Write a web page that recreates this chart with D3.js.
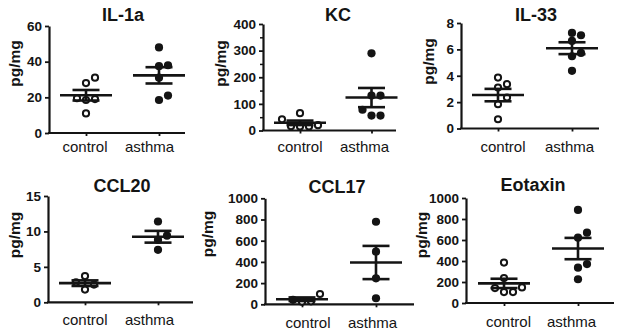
<!DOCTYPE html>
<html>
<head>
<meta charset="utf-8">
<script src="https://cdn.jsdelivr.net/npm/d3@7"></script>
<style>
  html, body { margin: 0; padding: 0; background: #fff; }
  svg { display: block; }
  text { font-family: "Liberation Sans", Arial, sans-serif; fill: #141414; }
</style>
</head>
<body>
<svg id="chart" width="624" height="331"></svg>
<script>
// ---- data ----
const categories = ["control", "asthma"];
const titles = ["IL-1a", "KC", "IL-33", "CCL20", "CCL17", "Eotaxin"];
const yLabel = "pg/mg";

const il1aControl = [31, 28, 19, 18.5, 19.5, 11];
const il1aAsthma  = [48, 38, 37.5, 31, 21, 18.5];
const kcControl   = [42, 65, 15, 15, 16, 20];
const kcAsthma    = [290, 131, 131, 78, 56, 56];
const il33Control = [3.86, 3.36, 3.1, 2.35, 1.84, 0.7];
const il33Asthma  = [7.25, 7.07, 6.64, 5.73, 5.48, 4.37];
const ccl20Control = [3.7, 2.8, 2.5, 1.8];
const ccl20Asthma  = [11.4, 9.4, 8.8, 7.4];
const ccl17Control = [97, 42, 28, 25];
const ccl17Asthma  = [779, 496, 245, 57];
const eotaxinControl = [385, 237, 148, 142, 104, 104];
const eotaxinAsthma  = [886, 670, 622, 371, 336, 226];

const il1aTicks = [0, 20, 40, 60];
const kcTicks = [0, 100, 200, 300, 400];
const kcMinorTicks = [50, 150, 250, 350];
const il33Ticks = [0, 2, 4, 6, 8];
const ccl20Ticks = [0, 5, 10, 15];
const ccl17Ticks = [0, 200, 400, 600, 800, 1000];
const eotaxinTicks = [0, 200, 400, 600, 800, 1000];

// ---- layout (positions only) ----
const layout = [
  {left:49,  right:185, top:26,    bottom:133,   cx:86,  ax:159,   clx:84.5, alx:149, labY:151.5, tx:123, ty:21,  ylx:19.5,  yly:63.5},
  {left:263, right:396, top:24,    bottom:130.5, cx:300, ax:371.5, clx:299.5,alx:364, labY:151.5, tx:338, ty:21,  ylx:225.5, yly:63.5},
  {left:461, right:599, top:23,    bottom:128.5, cx:498, ax:572,   clx:502.5,alx:569, labY:151.5, tx:536, ty:21,  ylx:433.5, yly:61.5},
  {left:48,  right:193, top:196,   bottom:302.3, cx:85,  ax:158,   clx:84.5, alx:149, labY:325,   tx:122, ty:192, ylx:20,    yly:235},
  {left:265, right:414, top:198.3, bottom:304.3, cx:302, ax:376,   clx:307.5,alx:372, labY:328,   tx:337, ty:193, ylx:212.5, yly:234},
  {left:466, right:614, top:198,   bottom:303,   cx:504, ax:578,   clx:508,  alx:571, labY:327,   tx:533, ty:191, ylx:426.5, yly:235}
];

const panels = [
  {title: titles[0], groups: [il1aControl, il1aAsthma], ticks: il1aTicks, minor: null},
  {title: titles[1], groups: [kcControl, kcAsthma], ticks: kcTicks, minor: kcMinorTicks},
  {title: titles[2], groups: [il33Control, il33Asthma], ticks: il33Ticks, minor: null},
  {title: titles[3], groups: [ccl20Control, ccl20Asthma], ticks: ccl20Ticks, minor: null},
  {title: titles[4], groups: [ccl17Control, ccl17Asthma], ticks: ccl17Ticks, minor: null},
  {title: titles[5], groups: [eotaxinControl, eotaxinAsthma], ticks: eotaxinTicks, minor: null}
];

const INK = "#141414";
const R = 4.1;
const STEP = 9;
const MIN_D = 8;

const svg = d3.select("#chart");

// deterministic beeswarm offsets computed from values
function swarm(values, y) {
  const order = values.map((v, i) => i).sort((a, b) => values[a] - values[b]);
  const placed = [];
  const out = new Array(values.length);
  order.forEach(i => {
    const py = y(values[i]);
    const cands = [0];
    for (let k = 1; k < 8; k++) { cands.push(k * STEP, -k * STEP); }
    for (const dx of cands) {
      if (placed.every(p => Math.hypot(p.dx - dx, p.py - py) >= MIN_D)) {
        placed.push({dx, py});
        out[i] = {v: values[i], dx};
        break;
      }
    }
  });
  return out;
}

panels.forEach((p, pi) => {
  const L = layout[pi];
  const g = svg.append("g");
  const ymax = d3.max(p.ticks);
  const y = d3.scaleLinear().domain([0, ymax]).range([L.bottom, L.top]);
  const x = d3.scalePoint().domain(categories).range([L.cx, L.ax]);

  // y axis
  const ya = g.append("g").attr("transform", `translate(${L.left},0)`)
    .call(d3.axisLeft(y).tickValues(p.ticks).tickSize(4).tickSizeOuter(0).tickPadding(3).tickFormat(d3.format("d")));
  ya.select(".domain").attr("stroke", INK).attr("stroke-width", 2.2);
  ya.selectAll(".tick line").attr("stroke", INK).attr("stroke-width", 1.8);
  ya.selectAll(".tick text").attr("fill", INK)
    .style("font-size", "13.5px").style("font-weight", "bold")
    .style("font-family", '"Liberation Sans", Arial, sans-serif');
  if (p.minor) {
    const ym = g.append("g").attr("transform", `translate(${L.left},0)`)
      .call(d3.axisLeft(y).tickValues(p.minor).tickSize(3).tickSizeOuter(0).tickFormat(""));
    ym.select(".domain").remove();
    ym.selectAll(".tick line").attr("stroke", INK).attr("stroke-width", 1.5);
  }

  // x axis
  const xa = g.append("g").attr("transform", `translate(0,${L.bottom})`)
    .call(d3.axisBottom(x).tickSize(3).tickSizeOuter(0));
  xa.select(".domain").attr("d", `M${L.left - 1},0H${L.right}`)
    .attr("stroke", INK).attr("stroke-width", 2.2);
  xa.selectAll(".tick line").attr("stroke", INK).attr("stroke-width", 1.8);
  const labX = [L.clx, L.alx];
  xa.selectAll(".tick text")
    .attr("x", (d, i) => labX[i] - x(d))
    .attr("y", L.labY - L.bottom).attr("dy", 0)
    .attr("fill", INK)
    .style("font-size", "15px").style("font-weight", "normal")
    .style("font-family", '"Liberation Sans", Arial, sans-serif');

  // title
  g.append("text").attr("x", L.tx).attr("y", L.ty).attr("text-anchor", "middle")
    .style("font-size", "18px").style("font-weight", "bold").text(p.title);

  // y label
  g.append("text").attr("transform", `translate(${L.ylx},${L.yly}) rotate(-90)`)
    .attr("text-anchor", "middle")
    .style("font-size", "15.5px").style("font-weight", "bold").text(yLabel);

  // points and mean ± SEM
  p.groups.forEach((vals, gi) => {
    const cat = categories[gi];
    const cxp = x(cat);
    const pts = swarm(vals, y);
    const hollow = gi === 0;
    g.append("g").selectAll("circle").data(pts).join("circle")
      .attr("cx", d => cxp + d.dx)
      .attr("cy", d => y(d.v))
      .attr("r", hollow ? R - 1 : R)
      .attr("fill", hollow ? "#fff" : INK)
      .attr("stroke", INK)
      .attr("stroke-width", hollow ? 2 : 0);

    const m = d3.mean(vals);
    const sem = d3.deviation(vals) / Math.sqrt(vals.length);
    const eg = g.append("g").attr("stroke", INK).attr("stroke-width", 2.6);
    eg.append("line").attr("x1", cxp - 26).attr("x2", cxp + 26).attr("y1", y(m)).attr("y2", y(m));
    eg.append("line").attr("x1", cxp - 13.5).attr("x2", cxp + 13.5).attr("y1", y(m + sem)).attr("y2", y(m + sem));
    eg.append("line").attr("x1", cxp - 13.5).attr("x2", cxp + 13.5).attr("y1", y(m - sem)).attr("y2", y(m - sem));
    eg.append("line").attr("x1", cxp).attr("x2", cxp).attr("y1", y(m + sem)).attr("y2", y(m - sem));
  });
});
</script>
</body>
</html>
